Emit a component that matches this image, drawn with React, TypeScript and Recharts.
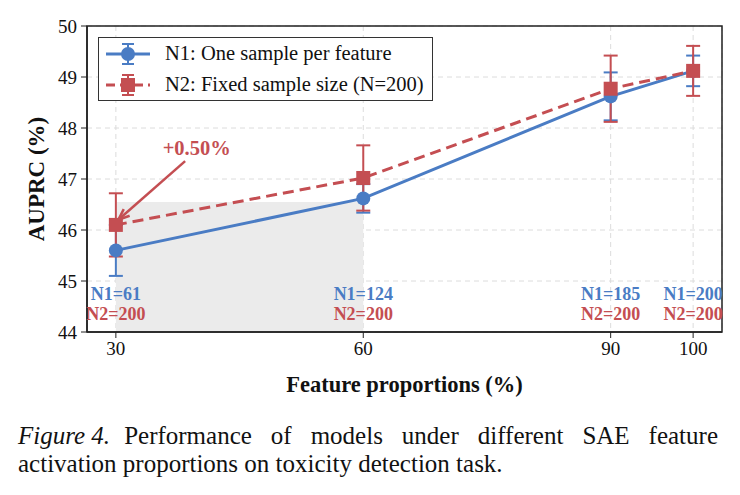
import {
  CartesianGrid,
  ErrorBar,
  Line,
  LineChart,
  ReferenceArea,
  ReferenceDot,
  ReferenceLine,
  XAxis,
  YAxis,
} from "recharts";

const proportions = [30, 60, 90, 100];
const n1Auprc = [45.6, 46.62, 48.62, 49.12];
const n1Err = [0.5, 0.28, 0.47, 0.3];
const n2Auprc = [46.1, 47.02, 48.77, 49.12];
const n2Err = [0.62, 0.64, 0.65, 0.49];
const n1Counts = [61, 124, 185, 200];
const n2Counts = [200, 200, 200, 200];
const yTicks = [44, 45, 46, 47, 48, 49, 50];

const BLUE = "#4a7cc4";
const RED = "#c44e52";
const SERIF = "'Liberation Serif', 'Times New Roman', serif";

const data = proportions.map((p, i) => ({
  proportion: p,
  n1: n1Auprc[i],
  n1Err: n1Err[i],
  n2: n2Auprc[i],
  n2Err: n2Err[i],
}));

function SquareDot(props: any) {
  const { cx, cy, index } = props;
  if (cx == null || cy == null) return null;
  return <rect key={`sq-${index}`} x={cx - 7} y={cy - 7} width={14} height={14} fill={RED} />;
}

function ArrowShape(props: any) {
  const { x1, y1, x2, y2 } = props;
  if (x1 == null) return null;
  const ang = Math.atan2(y2 - y1, x2 - x1);
  const len = 12;
  const spread = 0.38;
  const p1 = [x2 - len * Math.cos(ang - spread), y2 - len * Math.sin(ang - spread)];
  const p2 = [x2 - len * Math.cos(ang + spread), y2 - len * Math.sin(ang + spread)];
  return (
    <g>
      <line x1={x1} y1={y1} x2={x2} y2={y2} stroke={RED} strokeWidth={2.5} />
      <polyline
        points={`${p1[0]},${p1[1]} ${x2},${y2} ${p2[0]},${p2[1]}`}
        fill="none"
        stroke={RED}
        strokeWidth={2.5}
      />
    </g>
  );
}

function LegendIcon({ color, square, dashed }: { color: string; square?: boolean; dashed?: boolean }) {
  return (
    <svg width={48} height={24} style={{ display: "block" }}>
      <line
        x1={2}
        y1={12}
        x2={46}
        y2={12}
        stroke={color}
        strokeWidth={3}
        strokeDasharray={dashed ? "9 5" : undefined}
      />
      <line x1={24} y1={2} x2={24} y2={22} stroke={color} strokeWidth={2} />
      <line x1={18} y1={2} x2={30} y2={2} stroke={color} strokeWidth={2} />
      <line x1={18} y1={22} x2={30} y2={22} stroke={color} strokeWidth={2} />
      {square ? (
        <rect x={17} y={5} width={14} height={14} fill={color} />
      ) : (
        <circle cx={24} cy={12} r={7} fill={color} />
      )}
    </svg>
  );
}

function LegendBox() {
  const row = { display: "flex", alignItems: "center", gap: 13, height: 31 };
  return (
    <div
      style={{
        position: "absolute",
        left: 98,
        top: 37,
        border: "1px solid #333",
        background: "white",
        padding: "0px 8px 0px 5px",
        fontFamily: SERIF,
        fontSize: 20.5,
        color: "#111",
        whiteSpace: "nowrap",
      }}
    >
      <div style={row}>
        <LegendIcon color={BLUE} />
        <span>N1: One sample per feature</span>
      </div>
      <div style={row}>
        <LegendIcon color={RED} square dashed />
        <span>N2: Fixed sample size (N=200)</span>
      </div>
    </div>
  );
}

const textLabel = (value: string, color: string, fontSize = 18) => ({
  value,
  position: "center" as const,
  fill: color,
  fontFamily: SERIF,
  fontWeight: 700,
  fontSize,
});

export default function App() {
  return (
    <div
      style={{
        position: "absolute",
        left: 0,
        top: 0,
        width: 740,
        height: 495,
        background: "white",
        overflow: "hidden",
      }}
    >
      <LineChart
        width={740}
        height={400}
        data={data}
        margin={{ top: 26, right: 18, left: 0, bottom: 0 }}
      >
        <ReferenceArea x1={30} x2={60} y1={44} y2={46.55} fill="#ebebeb" fillOpacity={1} stroke="none" />
        <CartesianGrid stroke="#dcdcdc" strokeDasharray="5 4" />
        <XAxis
          dataKey="proportion"
          type="number"
          domain={[26.5, 103.5]}
          ticks={proportions}
          height={68}
          tickSize={6}
          tickMargin={4}
          axisLine={{ stroke: "#222", strokeWidth: 1.5 }}
          tickLine={{ stroke: "#222" }}
          tick={{ fontFamily: SERIF, fontSize: 19, fill: "#111" }}
          label={{
            value: "Feature proportions (%)",
            position: "insideBottom",
            offset: 8,
            fontFamily: SERIF,
            fontSize: 22.5,
            fontWeight: 700,
            fill: "#111",
          }}
        />
        <YAxis
          type="number"
          domain={[44, 50]}
          ticks={yTicks}
          width={87}
          tickSize={6}
          tickMargin={4}
          axisLine={{ stroke: "#222", strokeWidth: 1.5 }}
          tickLine={{ stroke: "#222" }}
          tick={{ fontFamily: SERIF, fontSize: 19, fill: "#111" }}
          label={{
            value: "AUPRC (%)",
            angle: -90,
            position: "insideLeft",
            offset: 36,
            style: { textAnchor: "middle" },
            fontFamily: SERIF,
            fontSize: 23,
            fontWeight: 700,
            fill: "#111",
          }}
        />
        <ReferenceArea
          x1={26.5}
          x2={103.5}
          y1={44}
          y2={50}
          fill="none"
          stroke="#222"
          strokeWidth={1.5}
          ifOverflow="visible"
        />
        <Line
          dataKey="n1"
          stroke={BLUE}
          strokeWidth={3}
          dot={{ r: 7, fill: BLUE, stroke: BLUE, strokeWidth: 0 }}
          activeDot={false}
          isAnimationActive={false}
        >
          <ErrorBar dataKey="n1Err" direction="y" width={7} stroke={BLUE} strokeWidth={2} />
        </Line>
        <Line
          dataKey="n2"
          stroke={RED}
          strokeWidth={3}
          strokeDasharray="11 6"
          dot={SquareDot}
          activeDot={false}
          isAnimationActive={false}
        >
          <ErrorBar dataKey="n2Err" direction="y" width={7} stroke={RED} strokeWidth={2} />
        </Line>
        <ReferenceLine
          segment={[
            { x: 38.4, y: 47.35 },
            { x: 30.3, y: 46.2 },
          ]}
          shape={ArrowShape}
          ifOverflow="visible"
        />
        <ReferenceDot
          x={39.8}
          y={47.62}
          r={0}
          stroke="none"
          label={textLabel("+0.50%", RED, 20.5)}
        />
        {proportions.map((p, i) => (
          <ReferenceDot
            key={`n1-${p}`}
            x={p}
            y={44.76}
            r={0}
            stroke="none"
            label={textLabel(`N1=${n1Counts[i]}`, BLUE)}
          />
        ))}
        {proportions.map((p, i) => (
          <ReferenceDot
            key={`n2-${p}`}
            x={p}
            y={44.37}
            r={0}
            stroke="none"
            label={textLabel(`N2=${n2Counts[i]}`, RED)}
          />
        ))}
      </LineChart>
      <LegendBox />
      <div
        style={{
          position: "absolute",
          left: 18,
          top: 422,
          width: 700,
          fontFamily: SERIF,
          fontSize: 25,
          lineHeight: "28px",
          textAlign: "justify",
          color: "#111",
        }}
      >
        <span style={{ display: "inline-block", fontStyle: "italic", marginRight: 14 }}>Figure&nbsp;4.</span>
        Performance of models under different SAE feature activation proportions on toxicity detection task.
      </div>
    </div>
  );
}
